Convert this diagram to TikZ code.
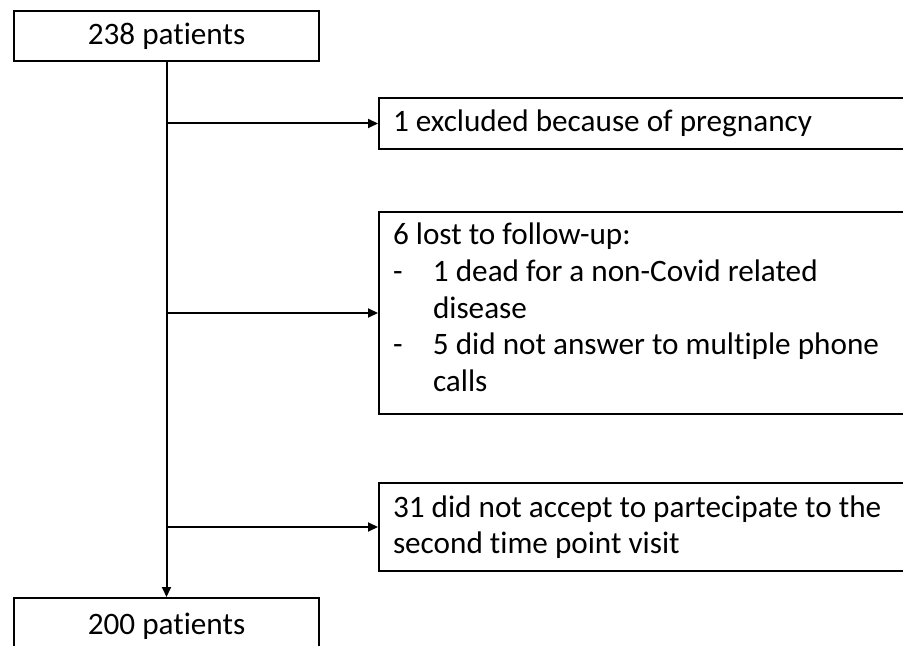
\documentclass[tikz,border=0pt]{standalone}
\usepackage{fontspec}
\setmainfont{Carlito}[Ligatures=NoCommon]
\usetikzlibrary{arrows.meta}
\begin{document}
\begin{tikzpicture}[x=0.5pt,y=-0.5pt, line width=1pt,
  box/.style={draw, line width=1pt, anchor=north west, inner sep=0pt, font=\fontsize{15.6}{18.3}\selectfont},
  txt/.style={anchor=base west, inner sep=0pt, font=\fontsize{15.6}{18.3}\selectfont},
  arr/.style={-{Triangle[length=5pt,width=4.5pt]}}]
\useasboundingbox (0,0) rectangle (903,646);
\clip (0,0) rectangle (903,646);
\fill[white] (0,0) rectangle (903,646);
\node[box, minimum width=152.5pt, minimum height=25pt] (top) at (13,10) {238 patients};
\node[box, minimum width=152.5pt, minimum height=28pt] (bot) at (13,597) {200 patients};
\node[box, minimum width=300pt, minimum height=25.5pt] (b1) at (378,97) {};
\node[txt] (t1) at (392,132) {1 excluded because of pregnancy};
\node[box, minimum width=300pt, minimum height=101pt] (b2) at (378,211) {};
\node[txt] (t2) at (392,245) {\parbox[t]{250pt}{6 lost to follow-up:\\
\makebox[20pt][l]{-}1 dead for a non-Covid related\\
\hspace*{20pt}disease\\
\makebox[20pt][l]{-}5 did not answer to multiple phone\\
\hspace*{20pt}calls}};
\node[box, minimum width=300pt, minimum height=44pt] (b3) at (378,482) {};
\node[txt] (t3) at (392,517) {\parbox[t]{250pt}{31 did not accept to partecipate to the\\
second time point visit}};
\draw[arr] (top.south) -- (bot.north);
\draw[arr] (top.south |- b1.west) -- (b1.west);
\draw[arr] (top.south |- b2.west) -- (b2.west);
\draw[arr] (top.south |- b3.west) -- (b3.west);
\end{tikzpicture}
\end{document}
